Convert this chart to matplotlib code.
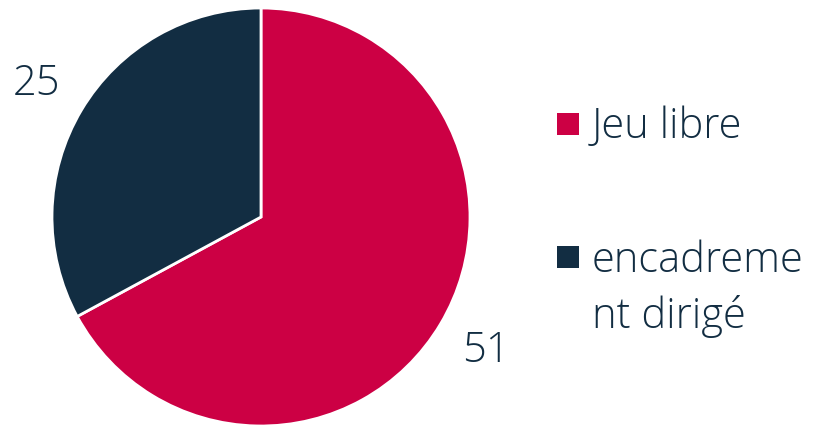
import matplotlib.pyplot as plt
from matplotlib.patches import Rectangle

labels = ["Jeu libre", "encadreme\nnt dirigé"]
values = [51, 25]
colors = ["#CC0044", "#122D42"]
text_color = "#122D42"

W, H = 818, 428
fig = plt.figure(figsize=(W / 100, H / 100), dpi=100)
plt.rcParams["font.family"] = ["Open Sans", "DejaVu Sans"]
fs = 30

# pie axes: centre (261, 217) px from top, radius ~209 px
cx, cy, r = 261, 217, 209
ax = fig.add_axes([(cx - r) / W, (H - cy - r) / H, 2 * r / W, 2 * r / H])
wedges, texts = ax.pie(
    values,
    colors=colors,
    startangle=90,
    counterclock=False,
    labels=[str(v) for v in values],
    labeldistance=1.25,
    wedgeprops=dict(edgecolor="white", linewidth=2),
    textprops=dict(fontsize=fs, color=text_color, fontweight="light"),
)
for t in texts:
    t.set_ha("center")
ax.set_xlim(-1, 1)
ax.set_ylim(-1, 1)
ax.set_aspect("equal")

# legend drawn by hand
square = 22
sq_y = [124, 257]
base_y = [138, 328]  # baseline of the last line of each entry
for lab, col, ys, yb in zip(labels, colors, sq_y, base_y):
    fig.patches.append(Rectangle((557 / W, (H - ys - square / 2) / H), square / W, square / H,
                                 transform=fig.transFigure, facecolor=col, edgecolor="none"))
    fig.text(592 / W, (H - yb) / H, lab, fontsize=fs, color=text_color, fontweight="light",
             va="baseline", ha="left", linespacing=1.4)

fig.savefig("out.png", dpi=100)
